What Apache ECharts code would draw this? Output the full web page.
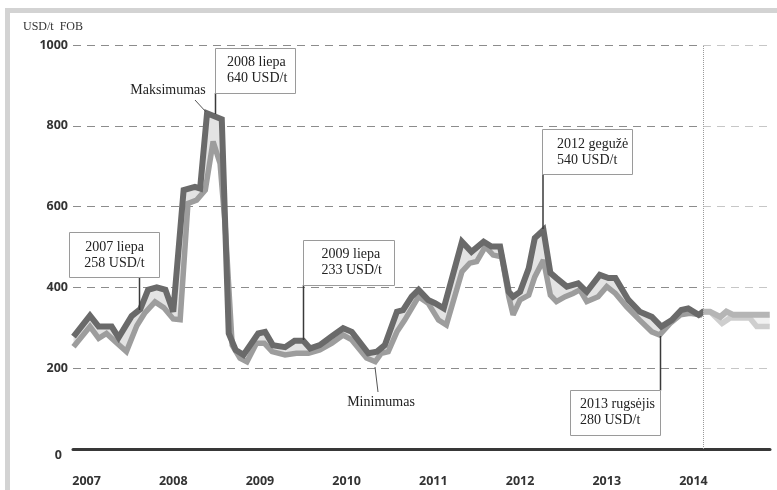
<!DOCTYPE html>
<html>
<head>
<meta charset="utf-8">
<script src="https://cdn.jsdelivr.net/npm/echarts@6/dist/echarts.min.js"></script>
<style>
html,body{margin:0;padding:0;background:#fff;}
#c{width:777px;height:490px;}
</style>
</head>
<body>
<div id="c"></div>
<script>
// ---- data ----
const yearTicks = [2007, 2008, 2009, 2010, 2011, 2012, 2013, 2014];
const yTicks = [0, 200, 400, 600, 800, 1000];
const forecastStart = 2014.11;

const maxX = [2006.85,2007.04,2007.14,2007.29,2007.37,2007.52,2007.62,2007.71,2007.81,2007.91,2008.00,2008.12,2008.25,2008.31,2008.39,2008.56,2008.64,2008.72,2008.81,2008.98,2009.06,2009.15,2009.29,2009.40,2009.50,2009.58,2009.69,2009.83,2009.96,2010.06,2010.25,2010.35,2010.44,2010.58,2010.65,2010.75,2010.83,2010.94,2011.02,2011.12,2011.33,2011.44,2011.58,2011.67,2011.77,2011.87,2011.92,2012.00,2012.10,2012.17,2012.27,2012.35,2012.42,2012.54,2012.67,2012.77,2012.92,2013.02,2013.10,2013.25,2013.38,2013.52,2013.63,2013.75,2013.86,2013.94,2014.06,2014.11,2014.19,2014.31,2014.38,2014.46,2014.69,2014.88];
const maxV = [278,330,303,303,276,329,346,394,400,394,340,641,649,645,831,816,286,245,233,286,290,257,252,268,268,249,257,279,299,290,237,241,257,340,344,377,394,369,361,348,513,488,513,501,501,389,377,389,447,522,542,436,423,402,410,389,431,423,423,369,340,327,303,319,344,348,332,340,340,327,340,332,332,332];

const minX = [2006.85,2007.04,2007.14,2007.23,2007.33,2007.46,2007.58,2007.67,2007.79,2007.89,2008.00,2008.08,2008.17,2008.27,2008.37,2008.46,2008.54,2008.60,2008.68,2008.77,2008.85,2008.96,2009.05,2009.14,2009.29,2009.42,2009.56,2009.69,2009.83,2009.96,2010.06,2010.23,2010.33,2010.40,2010.48,2010.58,2010.67,2010.83,2010.94,2011.06,2011.15,2011.33,2011.42,2011.50,2011.60,2011.69,2011.79,2011.87,2011.92,2012.00,2012.10,2012.17,2012.27,2012.35,2012.42,2012.52,2012.61,2012.69,2012.77,2012.90,2013.00,2013.10,2013.23,2013.38,2013.52,2013.61,2013.73,2013.85,2013.96,2014.08,2014.11,2014.19,2014.33,2014.42,2014.65,2014.73,2014.88];
const minV = [253,303,274,286,266,241,305,336,364,350,322,320,608,616,641,761,707,550,257,225,216,262,262,241,233,237,237,245,262,282,270,225,216,237,241,290,319,377,361,319,307,439,460,464,501,480,476,377,332,369,381,426,468,381,365,377,385,394,365,377,402,385,352,319,290,282,311,332,336,332,340,340,311,324,324,303,303];

const annotations = [
  "2007 liepa\n258 USD/t",
  "2008 liepa\n640 USD/t",
  "2009 liepa\n233 USD/t",
  "2012 gegužė\n540 USD/t",
  "2013 rugsėjis\n280 USD/t"
];
const seriesLabels = ["Maksimumas", "Minimumas"];
const unitLabel = "USD/t  FOB";

// ---- build ----
const maxData = maxX.map((x, i) => [x, maxV[i]]);
const minData = minX.map((x, i) => [x, minV[i]]);

const chart = echarts.init(document.getElementById('c'), null, {renderer: 'canvas'});

const serif = '"Liberation Serif", "DejaVu Serif", serif';
const sans = '"Open Sans", "DejaVu Sans", sans-serif';

function box(x, y, w, h) {
  return {type: 'rect', shape: {x: x, y: y, width: w, height: h},
    style: {fill: '#fff', stroke: '#9a9a9a', lineWidth: 1}, z: 100};
}
function txt(x, y, t, align) {
  return {type: 'text', x: x, y: y, z: 101,
    style: {text: t, font: '14px ' + serif, fill: '#222', align: align || 'left',
      verticalAlign: 'middle', lineHeight: 16}};
}
function seg(x1, y1, x2, y2, w, c) {
  return {type: 'line', shape: {x1: x1, y1: y1, x2: x2, y2: y2}, z: 99,
    style: {stroke: c || '#3a3a3a', lineWidth: w || 1.5}};
}

const option = {
  animation: false,
  backgroundColor: '#fff',
  grid: {left: 73, right: 7, top: 45, bottom: 41, containLabel: false},
  xAxis: {
    type: 'value', min: 2006.844, max: 2014.883,
    axisLine: {show: true, onZero: false, lineStyle: {color: '#383838', width: 3}},
    axisTick: {show: false},
    splitLine: {show: false},
    axisLabel: {
      customValues: yearTicks,
      formatter: v => String(Math.round(v)),
      margin: 26, color: '#333', fontFamily: sans, fontWeight: 'bold', fontSize: 12.5
    }
  },
  yAxis: {
    type: 'value', min: 0, max: 1000, interval: 200,
    axisLine: {show: false}, axisTick: {show: false},
    splitLine: {show: true, lineStyle: {color: '#8c8c8c', width: 1, type: [8, 6]}},
    axisLabel: {
      margin: 5, color: '#333', fontFamily: sans, fontWeight: 'bold', fontSize: 12.5,
      formatter: v => v === 0 ? '{z|0}' : '{n|' + v + '}',
      rich: {
        n: {fontFamily: sans, fontWeight: 'bold', fontSize: 12.5, color: '#333'},
        z: {fontFamily: sans, fontWeight: 'bold', fontSize: 12.5, color: '#333', padding: [12, 6, 0, 0]}
      }
    }
  },
  series: [
    {
      type: 'custom', name: 'band', z: 1, silent: true,
      data: [[2010, 500]],
      renderItem: function (params, api) {
        const pts = [];
        maxData.forEach(p => pts.push(api.coord(p)));
        for (let i = minData.length - 1; i >= 0; i--) pts.push(api.coord(minData[i]));
        return {type: 'polygon', shape: {points: pts}, style: {fill: '#e3e3e3'}};
      }
    },
    {
      type: 'line', name: seriesLabels[1], z: 2, data: minData, symbol: 'none',
      lineStyle: {color: '#9d9d9d', width: 5.5, join: 'miter', miterLimit: 3}
    },
    {
      type: 'line', name: seriesLabels[0], z: 3, data: maxData, symbol: 'none',
      lineStyle: {color: '#6a6a6a', width: 6, join: 'miter', miterLimit: 3}
    },
    {
      type: 'custom', name: 'forecastShade', z: 4, silent: true, clip: false,
      data: [[2014.5, 500]],
      renderItem: function (params, api) {
        const a = api.coord([forecastStart, 1003]);
        const b = api.coord([2014.883, 4]);
        return {type: 'rect', shape: {x: a[0], y: a[1], width: b[0] - a[0], height: b[1] - a[1]},
          style: {fill: 'rgba(255,255,255,0.5)'}};
      }
    },
    {
      type: 'line', name: 'vline', z: 6, data: [],
      markLine: {
        silent: true, symbol: 'none', label: {show: false},
        lineStyle: {type: 'dotted', color: '#9a9a9a', width: 1},
        data: [{xAxis: forecastStart}]
      }
    }
  ],
  graphic: [
    // outer frame
    {type: 'rect', shape: {x: 7.5, y: 10.5, width: 820, height: 520},
      style: {fill: 'none', stroke: '#d3d3d3', lineWidth: 5}, z: 0, silent: true},
    {type: 'text', x: 23, y: 27, z: 101,
      style: {text: unitLabel, font: '12px ' + serif, fill: '#333', verticalAlign: 'middle'}},
    // 2007
    seg(139.5, 277, 139.5, 310),
    box(69.5, 232.5, 90, 45),
    txt(114.5, 255, annotations[0], 'center'),
    // 2008
    seg(215.5, 93, 215.5, 114),
    box(215.5, 48.5, 80, 45),
    txt(227, 70.5, annotations[1]),
    // Maksimumas
    {type: 'text', x: 168, y: 90, z: 101,
      style: {text: seriesLabels[0], font: '14px ' + serif, fill: '#222', align: 'center', verticalAlign: 'middle'}},
    seg(195, 100, 206, 112, 1, '#555'),
    // 2009
    seg(303.5, 285, 303.5, 340),
    box(303.5, 240.5, 91, 45),
    txt(321.5, 262.5, annotations[2]),
    // Minimumas
    {type: 'text', x: 381, y: 402, z: 101,
      style: {text: seriesLabels[1], font: '14px ' + serif, fill: '#222', align: 'center', verticalAlign: 'middle'}},
    seg(375, 367, 378, 392, 1, '#555'),
    // 2012
    seg(543, 174, 543, 229),
    box(542.5, 129.5, 90, 45),
    txt(557, 152, annotations[3]),
    // 2013
    seg(660.5, 336, 660.5, 390.5),
    box(570.5, 390.5, 90, 45),
    txt(580, 412, annotations[4])
  ]
};
chart.setOption(option);
</script>
</body>
</html>
